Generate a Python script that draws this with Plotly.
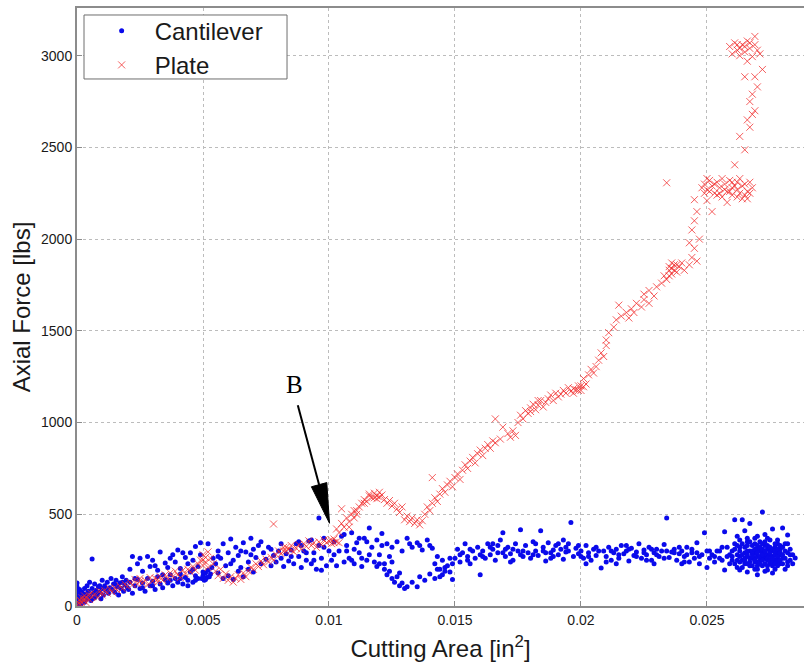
import numpy as np
import plotly.graph_objects as go

# ---------------- data (x in 1e-3 in^2, y in lbs) ----------------
cant_x_milli = [
 0.0,0.0,0.0,0.0,0.0,0.0,0.05,0.05,0.05,0.1,0.1,0.1,0.15,0.15,0.2,0.2,0.25,0.3,0.3,0.35,0.4,0.4,0.45,0.5,0.5,0.55,0.6,0.6,0.65,0.7,0.7,0.75,0.8,0.85,0.9,0.95,1.0,1.0,
 1.05,1.1,1.15,1.2,1.25,1.3,1.35,1.4,1.45,1.5,1.55,1.6,1.65,1.7,1.75,1.8,1.85,1.9,1.95,2.0,
 2.05,2.1,2.2,2.3,2.4,2.5,2.6,2.7,2.8,2.9,3.0,3.1,3.2,3.3,3.4,3.5,3.6,3.7,3.8,3.9,4.0,4.1,4.2,4.3,4.4,4.5,4.6,4.7,4.8,
 2.1,2.2,2.4,2.6,2.8,2.9,3.0,3.2,3.3,3.5,3.6,3.8,3.9,4.0,4.1,4.3,4.4,4.5,4.6,4.7,4.8,4.9,4.9,
 4.95,5.0,5.05,5.1,5.15,5.2,5.25,5.3,5.0,5.1,5.35,5.4,
 5.5,5.6,5.7,5.8,5.9,6.0,6.1,6.2,6.3,6.4,6.5,6.6,6.7,6.8,6.9,7.0,7.1,7.2,
 5.6,5.8,6.0,6.2,6.4,6.6,6.8,7.0,
 7.3,7.4,7.5,7.6,7.7,7.8,7.9,8.0,8.1,8.2,8.3,8.4,8.5,8.6,8.7,8.8,8.9,9.0,9.1,9.2,9.3,9.4,9.5,9.6,9.6,9.7,9.8,9.9,10.0,8.9,9.3,9.7,
 10.1,10.2,10.3,10.4,10.5,10.6,10.7,10.8,10.9,11.0,11.1,11.2,11.3,11.4,11.5,11.6,11.7,11.8,11.9,12.0,12.1,12.2,12.3,10.6,11.0,11.5,11.9,
 12.0,12.2,12.3,12.4,12.5,12.6,12.7,12.8,12.9,13.0,13.1,12.5,12.8,
 12.5,12.7,12.9,13.1,13.3,13.5,13.7,13.9,14.1,
 13.3,13.5,13.6,13.8,14.0,14.2,14.3,14.5,14.6,14.8,14.9,
 15.0,15.1,15.2,15.3,15.4,15.5,15.6,15.7,15.8,15.9,16.0,16.0,
 16.1,16.2,16.3,16.4,16.5,16.6,16.7,16.8,16.9,17.0,17.1,17.2,17.3,17.4,17.5,17.6,17.7,17.8,17.9,18.0,18.1,18.2,18.3,18.4,18.5,18.6,18.7,18.8,18.9,19.0,19.1,19.2,19.3,19.4,19.5,19.6,19.7,19.8,19.9,20.0,20.1,20.2,20.3,20.4,20.5,20.6,20.7,
 16.4,17.0,17.6,18.2,18.8,19.4,20.0,
 20.8,20.9,21.0,21.1,21.2,21.3,21.4,21.5,21.6,21.7,21.8,21.9,22.0,22.1,22.2,22.3,22.4,22.5,22.6,22.7,22.8,22.9,23.0,23.1,23.2,23.3,23.4,23.5,23.6,23.7,23.8,23.9,24.0,24.1,24.2,24.3,24.4,24.5,24.6,24.7,24.8,24.9,25.0,25.1,
 21.0,21.8,22.6,23.4,24.0,24.6,
 25.2,25.3,25.4,25.5,25.6,25.7,25.7,25.8,25.9,26.0,26.0,26.1,26.1,26.2,26.2,26.3,26.3,26.4,26.4,26.5,26.5,26.6,26.6,26.7,26.7,26.7,26.8,26.8,26.9,26.9,27.0,27.0,27.0,27.1,27.1,27.2,27.2,27.2,27.3,27.3,27.4,27.4,27.4,27.5,27.5,27.5,27.6,27.6,27.7,27.7,27.8,27.8,27.9,27.9,28.0,28.0,28.1,28.2,28.2,28.3,28.5,
 26.2,26.5,26.9,27.3,27.6,27.0,27.6,26.6,28.1,
 26.5,26.8,27.0,27.1,27.2,27.3,27.4,27.5,27.6,27.7,27.8,27.9,26.3,26.6,26.9,27.2,27.5,27.8,
]
cant_y = [
 10,30,55,80,105,125,20,45,70,15,40,90,5,60,30,75,50,20,95,65,40,110,80,55,130,30,95,256,70,45,120,85,60,105,75,40,95,140,
 60,110,85,130,70,100,150,90,120,75,140,105,60,125,95,160,80,115,140,100,
 90,130,70,110,145,95,125,80,150,110,135,90,160,120,100,145,125,170,110,150,130,175,120,155,140,185,130,165,150,
 200,270,230,190,270,215,250,195,295,235,210,280,240,305,205,265,230,290,250,325,215,280,345,
 150,165,140,180,155,195,160,175,185,145,210,260,
 230,300,260,340,220,290,365,250,320,275,210,345,295,240,370,310,265,330,
 180,150,165,145,190,160,200,185,
 230,290,255,320,220,275,240,300,260,215,285,245,305,230,340,270,210,300,250,355,230,290,200,330,480,260,370,220,300,330,360,195,
 250,350,220,300,380,240,330,260,400,230,345,290,215,370,250,425,320,240,360,280,395,230,340,390,310,350,215,
 230,200,170,190,150,130,160,110,125,95,105,240,180,
 320,350,300,370,320,345,305,360,315,
 130,105,160,140,175,150,200,170,210,185,145,
 260,310,240,290,340,270,230,300,260,320,170,280,
 300,260,340,280,310,250,290,360,400,270,320,285,250,340,300,415,270,330,290,260,350,300,275,410,320,290,345,260,305,330,280,310,255,295,340,455,270,315,285,300,260,330,290,250,310,275,300,
 320,310,280,340,290,320,270,
 207,300,270,320,250,290,310,260,330,285,300,245,315,275,295,340,260,305,280,320,250,290,310,270,300,335,480,265,295,310,250,285,300,270,320,240,290,260,345,230,280,400,210,260,
 240,330,250,300,230,290,
 280,240,300,260,320,196,405,270,230,300,250,470,340,210,280,196,320,470,250,290,230,350,270,450,300,220,260,330,240,290,200,310,270,350,250,513,290,220,330,260,196,280,310,240,300,360,270,220,320,250,290,340,230,280,425,260,300,387,240,280,262,
 380,410,370,390,420,170,180,185,200,
 260,285,240,300,265,285,250,275,300,280,260,310,270,300,265,310,230,240,
]
# additional Cantilever readings (denser regions)
cant_extra_x_milli = [
 26.0,26.1,26.1,26.2,26.2,26.3,26.3,26.4,26.4,26.4,26.5,26.5,26.6,26.6,26.6,26.7,26.7,26.7,26.8,26.8,26.8,26.9,26.9,26.9,27.0,27.0,27.0,27.1,27.1,27.1,27.2,27.2,27.2,27.3,27.3,27.3,27.4,27.4,27.4,27.5,27.5,27.5,27.6,27.6,27.6,27.7,27.7,27.7,27.8,27.8,27.8,27.9,27.9,27.9,28.0,28.0,28.0,28.1,28.1,28.2,28.2,28.3,28.3,28.4,28.4,25.9,25.8,25.6,25.5,25.3,25.1,26.3,26.6,27.0,27.4,27.8,28.2,26.9,27.3,27.7,
 15.2,15.6,16.1,16.5,16.9,17.3,17.7,18.1,18.5,18.9,19.1,19.5,19.9,20.3,20.6,21.2,21.5,21.9,22.2,22.5,22.8,23.0,23.3,23.7,23.9,24.2,24.4,24.7,25.0,20.2,21.4,22.9,24.1,17.2,18.6,19.3,16.7,15.5,
 0.3,0.6,0.9,1.2,1.5,1.8,2.3,2.6,3.0,3.4,3.7,4.1,4.4,4.7,2.5,3.1,3.7,4.2,4.6,5.2,5.6,6.1,6.5,6.9,7.3,7.7,8.1,8.5,8.8,9.1,9.4,9.8,10.2,10.7,11.2,11.6,12.1,10.9,11.3,12.4,13.2,13.6,14.0,
 14.2,14.4,14.5,14.7,14.8,14.4,14.6,14.9,14.3,
]
cant_extra_y = [
 270,230,310,250,330,240,300,280,210,340,320,250,230,280,330,260,350,240,300,220,270,310,250,340,290,220,330,270,230,320,250,340,280,230,300,350,260,330,220,290,250,320,240,310,260,300,230,340,270,220,310,250,330,290,280,230,320,260,340,290,220,310,250,280,230,280,320,250,300,270,300,360,370,380,370,360,340,200,190,200,
 280,310,270,340,290,310,300,280,300,270,340,300,330,270,320,300,280,310,270,290,310,280,260,290,320,280,310,270,300,230,230,230,240,240,245,360,330,250,
 60,40,110,90,120,130,150,100,110,170,140,150,110,140,260,220,260,290,200,340,270,230,300,280,350,310,340,270,350,290,250,320,280,300,370,280,330,250,260,270,340,330,330,
 230,200,250,220,260,160,190,230,270,
]

plate_x_milli = [
 0.0,0.05,0.1,0.1,0.15,0.2,0.2,0.25,0.3,0.35,0.4,0.45,0.5,0.55,0.6,0.7,0.8,0.9,1.0,1.1,1.2,1.3,1.4,1.5,1.6,1.7,1.8,1.9,2.0,
 2.1,2.2,2.3,2.4,2.5,2.6,2.7,2.8,2.9,3.0,3.1,3.2,3.3,3.4,
 3.5,3.6,3.7,3.8,3.9,4.0,4.1,4.2,4.3,4.4,4.5,4.6,4.7,4.8,
 4.9,5.0,5.0,5.1,5.2,5.2,5.3,5.4,
 5.5,5.6,5.7,5.8,5.9,6.0,6.1,6.2,6.3,6.4,6.5,6.6,6.7,
 6.8,6.9,7.0,7.1,7.2,7.3,7.4,7.5,7.6,7.7,7.8,7.8,
 7.9,8.0,8.1,8.2,8.3,8.4,8.5,8.6,8.7,8.8,
 8.9,9.0,9.1,9.2,9.3,9.4,9.5,9.6,9.7,9.8,9.9,10.0,10.1,10.2,10.3,10.4,
 10.3,10.4,10.5,10.6,10.7,10.8,10.9,11.0,11.1,11.2,10.5,
 11.3,11.4,11.5,11.6,11.7,11.8,11.9,12.0,11.9,12.1,
 12.2,12.3,12.4,12.5,12.6,12.7,12.8,12.9,
 13.0,13.1,13.2,13.3,13.4,13.5,13.6,13.7,
 13.8,13.9,14.0,14.1,14.1,14.2,14.3,14.4,14.5,14.6,14.7,14.8,14.9,15.0,
 15.1,15.2,15.3,15.4,15.5,15.6,15.7,15.8,15.9,16.0,16.1,16.2,
 16.3,16.4,16.5,16.6,16.6,16.8,16.9,17.1,17.2,17.3,17.4,
 17.5,17.6,17.7,17.8,17.9,18.0,18.1,18.2,18.3,18.4,18.5,18.6,
 18.7,18.8,18.9,19.0,19.1,19.2,19.3,19.4,19.5,19.6,19.7,19.8,19.9,20.0,20.1,20.2,
 20.1,20.3,20.4,20.5,20.6,20.7,20.8,20.9,21.0,21.1,21.0,
 21.3,21.4,21.5,21.6,21.8,21.9,22.0,22.1,22.2,22.4,22.5,22.7,
 22.5,22.7,22.9,23.0,
 23.2,23.3,23.4,23.5,23.6,23.6,23.7,23.8,23.9,24.0,24.1,23.4,
 24.3,24.4,24.5,24.6,24.7,24.4,24.5,24.6,24.5,24.3,
 24.8,24.9,25.0,25.1,25.2,25.2,25.3,25.4,25.5,25.6,25.7,25.8,25.9,26.0,26.1,26.2,26.3,26.4,26.5,26.6,26.7,26.8,25.0,25.4,25.8,26.2,26.6,25.6,26.0,26.1,
 26.5,26.3,26.7,26.8,26.7,26.9,27.0,26.8,26.5,26.9,27.2,26.6,
 25.9,26.0,26.1,26.2,26.3,26.4,26.5,26.6,26.7,26.8,26.9,27.0,27.1,26.9,26.6,
]
plate_y = [
 5,20,10,35,25,15,45,30,55,20,40,60,35,70,50,65,45,80,60,85,70,95,75,100,85,110,95,120,105,
 130,115,145,120,150,125,140,115,155,135,150,130,160,140,
 170,150,180,160,190,170,155,195,175,200,185,215,195,230,
 250,220,280,240,295,210,260,230,
 190,165,200,150,175,140,160,130,150,170,145,180,160,
 190,210,200,230,215,245,225,255,240,265,250,447,
 280,300,285,320,300,310,330,295,315,335,
 310,340,325,355,330,345,320,350,335,360,345,355,340,365,350,345,
 420,400,450,430,480,460,500,480,520,540,530,
 560,580,570,600,590,615,600,620,585,605,
 580,560,575,545,560,530,510,540,
 470,490,460,480,450,470,442,465,
 500,540,520,560,700,590,570,610,640,620,660,680,650,700,
 720,690,740,770,750,790,810,780,830,850,820,860,
 880,860,900,1020,890,910,975,940,920,955,930,
 1000,1040,1020,1065,1050,1080,1100,1070,1095,1120,1085,1110,
 1130,1150,1120,1160,1140,1155,1175,1160,1190,1170,1185,1180,1200,1175,1195,1210,
 1240,1260,1290,1270,1305,1340,1380,1360,1420,1490,1450,
 1520,1560,1640,1580,1600,1570,1620,1600,1650,1630,1670,1650,
 1700,1720,1690,1740,
 1760,1800,1780,1830,1840,1810,1860,1820,1850,1870,1830,2307,
 1860,1900,1950,1880,2000,2050,2100,2150,2215,1980,
 2280,2300,2270,2320,2150,2290,2250,2310,2280,2230,2300,2260,2320,2240,2290,2270,2330,2220,2300,2260,2310,2280,2210,2240,2200,2230,2220,2330,2310,2405,
 2487,2560,2610,2680,2750,2700,2830,2790,2885,2885,2925,2650,
 3050,3010,3070,3030,3000,3060,3020,3080,3040,2995,3060,3030,3010,3105,2970,
]
# additional Plate readings (denser regions)
plate_extra_x_milli = [
 23.5,23.6,23.7,23.5,23.8,24.9,25.0,25.3,25.5,25.7,25.9,26.0,26.2,26.4,26.5,26.3,26.7,25.1,
 19.7,19.9,20.0,18.0,18.3,12.0,11.8,8.3,8.5,8.2,10.1,10.2,5.0,5.1,26.3,26.5,26.7,26.2,2.5,3.2,1.0,0.3,
 10.8,11.0,11.4,11.6,11.1,
]
plate_extra_y = [
 1850,1870,1830,1800,1860,2250,2330,2300,2250,2270,2260,2280,2310,2290,2240,2250,2250,2260,
 1160,1175,1200,1060,1120,595,590,320,305,300,360,345,250,265,3040,3050,3070,3060,135,145,75,40,
 430,520,560,610,500,
]

x_ticks = [0, 0.005, 0.01, 0.015, 0.02, 0.025]
x_tick_text = ["0", "0.005", "0.01", "0.015", "0.02", "0.025"]
y_ticks = [0, 500, 1000, 1500, 2000, 2500, 3000]
y_tick_text = ["0", "500", "1000", "1500", "2000", "2500", "3000"]

annot_b_x, annot_b_y = 0.01002, 451   # arrow tip (data)
label_b_x, label_b_y = 0.00862, 1205  # "B" label (data)

cant_x = np.array(cant_x_milli + cant_extra_x_milli) / 1000.0
cant_all_y = cant_y + cant_extra_y
plate_x = np.array(plate_x_milli + plate_extra_x_milli) / 1000.0
plate_all_y = plate_y + plate_extra_y

fig = go.Figure()
fig.add_trace(go.Scatter(
    x=cant_x, y=cant_all_y, mode="markers", name="Cantilever",
    marker=dict(symbol="circle", size=5, color="rgb(10,10,235)", line=dict(width=0)),
))
fig.add_trace(go.Scatter(
    x=plate_x, y=plate_all_y, mode="markers", name="Plate",
    marker=dict(symbol="x-thin-open", size=7, color="rgba(240,40,40,0.75)",
                line=dict(width=1, color="rgba(240,40,40,0.75)")),
))

axis_common = dict(
    showgrid=True, gridcolor="#bcbcbc", griddash="dot", gridwidth=1,
    showline=True, linecolor="#8c8c8c", linewidth=2,
    ticks="inside", ticklen=5, tickcolor="#8c8c8c",
    tickfont=dict(family="Liberation Sans, Arial", size=14, color="#1a1a1a"),
    zeroline=False,
)
fig.update_xaxes(range=[0, 0.02885], tickvals=x_ticks, ticktext=x_tick_text, mirror=True,
                 title=dict(text="Cutting Area [in<sup>2</sup>]", standoff=13,
                            font=dict(family="Liberation Sans, Arial", size=24, color="#1a1a1a")),
                 **axis_common)
fig.update_yaxes(range=[0, 3260], tickvals=y_ticks, ticktext=y_tick_text,
                 title=dict(text="Axial Force [lbs]", standoff=4,
                            font=dict(family="Liberation Sans, Arial", size=24, color="#1a1a1a")),
                 **axis_common)

# legend box
fig.add_shape(type="rect", xref="paper", yref="paper", x0=0.00963, x1=0.2889, y0=0.8813, y1=0.9883,
              line=dict(color="#6e6e6e", width=1), fillcolor="white", layer="above")

# arrow to point B (pixel-sized shapes anchored at the tip)
fig.add_shape(type="path", xref="x", yref="y", xsizemode="pixel", ysizemode="pixel",
              xanchor=annot_b_x, yanchor=annot_b_y,
              path="M-31.7,118 L-10.4,38.6", line=dict(color="black", width=2), layer="above")
fig.add_shape(type="path", xref="x", yref="y", xsizemode="pixel", ysizemode="pixel",
              xanchor=annot_b_x, yanchor=annot_b_y,
              path="M0,0 L-2.7,40.7 L-18.1,36.5 Z", line=dict(color="black", width=1),
              fillcolor="black", layer="above")
fig.add_annotation(x=label_b_x, y=label_b_y, text="B", showarrow=False,
                   font=dict(family="Liberation Serif, Times New Roman", size=25, color="black"))

fig.update_layout(
    width=804, height=669,
    margin=dict(l=77, r=0, t=8, b=63),
    plot_bgcolor="white", paper_bgcolor="white",
    showlegend=True,
    legend=dict(x=0.016, y=0.999, xanchor="left", yanchor="top",
                bgcolor="rgba(0,0,0,0)", borderwidth=0, itemwidth=56,
                font=dict(family="Liberation Sans, Arial", size=24, color="#1a1a1a"),
                tracegroupgap=0),
)

fig.write_html("out.html")
